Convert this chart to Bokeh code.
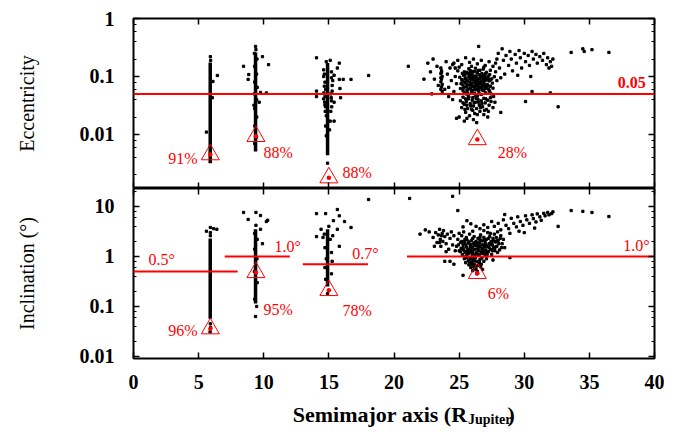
from bokeh.plotting import figure
from bokeh.models import (LinearAxis, LogAxis, Range1d, SingleIntervalTicker, LogTicker,
                          CustomJSTickFormatter, Span, Label)
from bokeh.layouts import column
from bokeh.embed import file_html
from bokeh.resources import INLINE

RED = "#ff0000"
FONT = "Liberation Serif"

# ---------------- data ----------------
x_ticks_interval = 5

# dense cores of the three inner groups (semimajor axis, lower / upper value)
core_a = [5.89, 9.37, 14.9]
core_e_lo = [0.0032, 0.0051, 0.0044]
core_e_hi = [0.175, 0.26, 0.17]
core_i_lo = [0.057, 0.115, 0.25]
core_i_hi = [2.3, 3.5, 3.5]

# eccentricity: scattered particles around the inner groups
ecc_inner = [(6.44, 0.104), (6.1, 0.082), (6.05, 0.043), (5.6, 0.011), (5.9, 0.22), (5.92, 0.19),
             (8.45, 0.15), (8.85, 0.108), (8.8, 0.089), (9.9, 0.22), (10.37, 0.16), (9.75, 0.053),
             (10.2, 0.052), (9.65, 0.036), (9.25, 0.032), (9.37, 0.33), (9.4, 0.29),
             (9.28, 0.25), (9.48, 0.2), (9.3, 0.15), (9.45, 0.11), (9.3, 0.08), (9.5, 0.065),
             (9.28, 0.05), (9.45, 0.04), (9.3, 0.028), (9.46, 0.02), (9.32, 0.014), (9.44, 0.009),
             (9.3, 0.007), (14.05, 0.21), (15.8, 0.17), (15.65, 0.14), (14.6, 0.13), (15.4, 0.105),
             (16.1, 0.089), (16.7, 0.089), (15.8, 0.089), (15.85, 0.062), (14.05, 0.056),
             (14.05, 0.045), (14.6, 0.041), (15.9, 0.043), (15.4, 0.036), (15.4, 0.017),
             (14.7, 0.032), (14.9, 0.0032), (15.1, 0.19), (14.8, 0.18),
             (14.65, 0.11), (15.2, 0.095), (14.7, 0.08), (15.25, 0.07), (14.75, 0.06), (15.15, 0.05),
             (14.7, 0.045), (15.2, 0.038), (14.75, 0.03), (15.15, 0.025), (14.8, 0.021),
             (15.1, 0.017), (14.75, 0.014), (15.05, 0.012), (14.8, 0.0095), (15.2, 0.12),
             (14.6, 0.1), (15.3, 0.085), (14.65, 0.068), (15.25, 0.056), (14.62, 0.052),
             (15.18, 0.043), (14.68, 0.036), (15.22, 0.03), (14.72, 0.025),
             (18.05, 0.104), (21.1, 0.15)]

# eccentricity: outer (irregular) group
ecc_outer = [(25.1, 0.062), (25.2, 0.088), (25.3, 0.071), (25.35, 0.105), (25.4, 0.052), (25.45, 0.079),
             (25.5, 0.094), (25.55, 0.066), (25.6, 0.118), (25.6, 0.058), (25.65, 0.083), (25.7, 0.047),
             (25.75, 0.099), (25.8, 0.071), (25.85, 0.126), (25.9, 0.062), (25.9, 0.089), (25.95, 0.054),
             (26.0, 0.11), (26.0, 0.076), (26.05, 0.043), (26.1, 0.095), (26.1, 0.067), (26.15, 0.083),
             (26.2, 0.121), (26.2, 0.051), (26.25, 0.072), (26.3, 0.102), (26.3, 0.061), (26.35, 0.087),
             (26.4, 0.046), (26.4, 0.115), (26.45, 0.069), (26.5, 0.093), (26.5, 0.056), (26.55, 0.078),
             (26.6, 0.128), (26.6, 0.064), (26.65, 0.099), (26.7, 0.049), (26.7, 0.082), (26.75, 0.112),
             (26.8, 0.07), (26.8, 0.058), (26.85, 0.091), (26.9, 0.076), (26.95, 0.104), (27.0, 0.062),
             (27.0, 0.087), (27.05, 0.052), (27.1, 0.118), (27.15, 0.073), (27.2, 0.095), (27.25, 0.061),
             (27.3, 0.084), (27.35, 0.108), (27.4, 0.068), (27.45, 0.05), (27.5, 0.091), (27.55, 0.077),
             (27.6, 0.063), (27.7, 0.099), (25.25, 0.113), (25.5, 0.041), (25.75, 0.136), (26.25, 0.139),
             (26.85, 0.134), (27.4, 0.128), (25.05, 0.097), (27.65, 0.045),
             (25.15, 0.075), (25.3, 0.057), (25.45, 0.091), (25.6, 0.072), (25.75, 0.061), (25.85, 0.105),
             (26.0, 0.057), (26.15, 0.066), (26.3, 0.08), (26.45, 0.058), (26.55, 0.107), (26.7, 0.065),
             (26.9, 0.057), (27.05, 0.097), (27.2, 0.07), (27.35, 0.055), (25.95, 0.098), (26.4, 0.075),
             (25.25, 0.083), (25.35, 0.064), (25.45, 0.107), (25.55, 0.087), (25.65, 0.052), (25.7, 0.112),
             (25.8, 0.093), (25.85, 0.078), (25.95, 0.068), (26.05, 0.122), (26.05, 0.088), (26.15, 0.101),
             (26.2, 0.059), (26.25, 0.094), (26.35, 0.069), (26.4, 0.084), (26.45, 0.127), (26.5, 0.064),
             (26.6, 0.09), (26.65, 0.074), (26.75, 0.06), (26.8, 0.099), (26.85, 0.068), (26.95, 0.084),
             (27.0, 0.111), (27.1, 0.064), (27.15, 0.088), (27.25, 0.102), (27.3, 0.058), (27.4, 0.088),
             (25.4, 0.12), (25.9, 0.117), (26.55, 0.05), (27.05, 0.07), (25.55, 0.05), (26.25, 0.047),
             (25.1, 0.038), (25.2, 0.029), (25.3, 0.044), (25.4, 0.033), (25.5, 0.024), (25.55, 0.037),
             (25.65, 0.028), (25.7, 0.041), (25.8, 0.021), (25.85, 0.034), (25.95, 0.027), (26.0, 0.039),
             (26.1, 0.031), (26.2, 0.023), (26.25, 0.036), (26.35, 0.028), (26.45, 0.04), (26.55, 0.032),
             (26.6, 0.025), (26.7, 0.038), (26.8, 0.03), (26.9, 0.042), (27.0, 0.035), (27.1, 0.027),
             (27.2, 0.039), (27.3, 0.032), (27.45, 0.037), (27.6, 0.029), (27.75, 0.036), (25.0, 0.02),
             (24.8, 0.019), (25.4, 0.017), (26.1, 0.018), (27.2, 0.02), (28.2, 0.024),
             (25.3, 0.035), (25.45, 0.027), (25.6, 0.032), (25.75, 0.044), (25.9, 0.031), (26.05, 0.026),
             (26.15, 0.035), (26.3, 0.042), (26.4, 0.022), (26.5, 0.036), (26.65, 0.029), (26.75, 0.034),
             (26.95, 0.026), (27.05, 0.041), (27.25, 0.025), (27.4, 0.043), (25.6, 0.019), (26.35, 0.016),
             (26.9, 0.022),
             (24.6, 0.17), (24.9, 0.19), (25.2, 0.16), (25.5, 0.21), (25.8, 0.175), (26.1, 0.2),
             (26.4, 0.165), (26.7, 0.19), (27.0, 0.155), (27.3, 0.18), (27.6, 0.15), (27.9, 0.2),
             (25.0, 0.145), (25.95, 0.15), (26.9, 0.145), (24.7, 0.14), (27.8, 0.17), (26.5, 0.33),
             (27.8, 0.12), (28.0, 0.25), (28.1, 0.14), (28.3, 0.3), (28.4, 0.19), (28.5, 0.11),
             (28.6, 0.23), (28.8, 0.155), (28.9, 0.27), (29.0, 0.2), (29.1, 0.125), (29.3, 0.24),
             (29.4, 0.17), (29.6, 0.28), (29.7, 0.21), (29.8, 0.14), (30.0, 0.25), (30.1, 0.18),
             (30.3, 0.23), (30.4, 0.155), (30.6, 0.27), (30.7, 0.2), (30.9, 0.24), (31.0, 0.17),
             (31.2, 0.22), (31.4, 0.19), (31.5, 0.25), (31.7, 0.16), (31.8, 0.21), (32.0, 0.18),
             (32.2, 0.2), (32.1, 0.15), (31.9, 0.14), (28.2, 0.095), (29.5, 0.105), (30.5, 0.1),
             (27.9, 0.085),
             (22.6, 0.17), (22.8, 0.12), (23.0, 0.2), (23.1, 0.09), (23.3, 0.15), (23.4, 0.07),
             (24.0, 0.18), (24.1, 0.11), (24.2, 0.065), (24.3, 0.14), (24.4, 0.085), (24.5, 0.16),
             (24.6, 0.055), (24.7, 0.1), (24.8, 0.075), (24.9, 0.125), (24.2, 0.045), (23.9, 0.06),
             (24.5, 0.04), (22.9, 0.05), (22.3, 0.09),
             (23.6, 0.14), (23.65, 0.125), (23.6, 0.112), (23.7, 0.1), (23.65, 0.09), (23.6, 0.081),
             (23.7, 0.073), (23.65, 0.066), (23.6, 0.06), (23.7, 0.055), (23.65, 0.118), (23.6, 0.095),
             (32.6, 0.03), (30.1, 0.037), (33.6, 0.26), (34.5, 0.3), (34.6, 0.27), (35.2, 0.29),
             (36.5, 0.26), (30.6, 0.055), (32.0, 0.052)]

# inclination (degrees): scattered particles around the inner groups
inc_inner = [(5.9, 3.8), (5.6, 3.2), (6.15, 3.6), (6.4, 3.5), (5.9, 0.045), (5.92, 0.038),
             (5.88, 0.031), (5.9, 3.0), (5.9, 2.6),
             (8.45, 7.6), (9.4, 7.6), (9.75, 6.6), (8.8, 5.5), (10.3, 5.3), (10.2, 5.0), (9.75, 3.5),
             (9.9, 1.8), (9.5, 2.2), (9.37, 0.063), (9.4, 4.2), (9.3, 2.9), (9.45, 0.1), (9.3, 0.14),
             (9.5, 0.3), (9.28, 0.5), (9.48, 0.9), (9.3, 1.4),
             (14.05, 7.2), (14.75, 7.2), (15.65, 8.7), (15.8, 6.5), (15.35, 5.2), (16.2, 5.0),
             (16.7, 3.8), (14.05, 2.5), (14.4, 3.5), (15.65, 3.5), (15.8, 1.6), (14.55, 2.4),
             (14.9, 0.18), (15.2, 1.2), (14.7, 1.5), (15.25, 0.8), (14.7, 0.6), (15.2, 0.45),
             (14.75, 0.35), (15.1, 2.2), (14.65, 2.8), (15.3, 2.6), (15.0, 4.0), (14.8, 0.9),
             (18.05, 13.8), (21.2, 14.5)]

# inclination (degrees): outer (irregular) group
inc_outer = [(24.8, 1.6), (24.9, 2.2), (25.0, 1.3), (25.1, 1.9), (25.2, 2.6), (25.25, 1.1), (25.3, 1.5),
             (25.4, 2.0), (25.45, 1.25), (25.5, 1.75), (25.55, 2.4), (25.6, 1.05), (25.65, 1.4),
             (25.7, 1.85), (25.75, 1.15), (25.8, 2.8), (25.85, 1.6), (25.9, 1.3), (25.95, 2.1),
             (26.0, 1.0), (26.0, 1.5), (26.05, 1.2), (26.1, 1.8), (26.15, 2.5), (26.2, 1.1),
             (26.25, 1.4), (26.3, 2.0), (26.35, 1.65), (26.4, 1.05), (26.45, 2.3), (26.5, 1.3),
             (26.55, 1.85), (26.6, 1.55), (26.65, 2.7), (26.7, 1.2), (26.75, 2.05), (26.8, 1.45),
             (26.85, 1.7), (26.9, 2.4), (26.95, 1.15), (27.0, 1.9), (27.05, 1.35), (27.1, 2.2),
             (27.15, 1.6), (27.2, 3.0), (27.25, 1.25), (27.3, 1.8), (27.35, 2.5), (27.4, 1.4),
             (27.45, 2.0), (27.5, 1.1), (27.55, 1.7), (27.6, 2.3), (27.65, 1.5), (27.7, 2.8),
             (27.75, 1.3), (27.8, 1.95), (27.85, 2.4), (27.9, 1.6), (28.0, 2.1), (28.1, 1.35),
             (28.2, 2.6), (28.3, 1.8), (28.4, 2.2), (25.35, 3.1), (26.05, 3.2), (26.9, 3.3),
             (25.0, 2.9), (27.95, 3.1), (28.5, 1.5),
             (25.15, 1.45), (25.3, 1.75), (25.5, 1.2), (25.6, 2.15), (25.7, 1.3), (25.9, 1.75),
             (26.1, 1.35), (26.2, 1.9), (26.35, 1.2), (26.5, 1.6), (26.6, 2.1), (26.75, 1.35),
             (26.95, 1.55), (27.1, 1.2), (27.3, 1.5), (27.5, 1.9), (27.7, 1.45), (27.9, 2.05),
             (24.95, 1.7), (25.1, 1.25), (25.2, 2.0), (25.35, 1.35), (25.45, 2.2), (25.55, 1.55),
             (25.65, 1.15), (25.75, 1.95), (25.8, 1.4), (25.95, 1.25), (26.05, 2.3), (26.15, 1.65),
             (26.25, 1.05), (26.3, 1.7), (26.45, 1.45), (26.55, 1.1), (26.6, 2.4), (26.7, 1.7),
             (26.85, 1.25), (26.95, 2.1), (27.05, 1.7), (27.15, 1.1), (27.25, 2.3), (27.4, 1.75),
             (27.55, 1.3), (27.65, 2.05), (27.8, 1.55), (27.95, 1.2), (28.05, 1.8), (28.25, 1.5),
             (26.0, 1.15), (26.4, 1.85), (26.8, 1.15), (25.5, 1.0), (27.0, 1.05), (28.15, 2.3),
             (25.4, 0.9), (25.5, 0.75), (25.6, 0.95), (25.7, 0.82), (25.75, 0.68), (25.85, 0.9),
             (25.9, 0.6), (26.0, 0.78), (26.05, 0.52), (26.1, 0.88), (26.15, 0.7), (26.2, 0.58),
             (26.25, 0.95), (26.3, 0.64), (26.35, 0.8), (26.4, 0.5), (26.5, 0.72), (26.6, 0.87),
             (26.65, 0.62), (26.75, 0.93), (26.9, 0.8), (25.3, 0.42), (26.8, 0.55), (24.3, 0.8),
             (23.9, 0.8), (24.6, 0.7), (27.1, 0.9), (27.6, 0.85), (28.9, 0.95),
             (25.95, 0.7), (26.1, 0.62), (26.2, 0.82), (26.3, 0.55), (26.35, 0.45), (26.45, 0.66),
             (26.55, 0.78), (26.0, 0.92), (25.8, 0.78), (26.7, 0.7),
             (23.0, 2.4), (23.2, 3.0), (23.3, 1.9), (23.4, 2.7), (23.5, 3.5), (23.55, 2.2), (23.6, 1.6),
             (23.7, 2.9), (23.75, 2.0), (23.8, 3.3), (23.9, 2.5), (24.0, 1.8), (24.1, 2.8), (24.2, 1.4),
             (24.3, 2.3), (24.4, 3.1), (24.5, 1.7), (24.6, 2.6), (24.7, 1.3), (23.65, 2.6), (23.5, 1.9),
             (22.7, 3.1), (22.4, 3.4), (23.1, 1.6), (24.0, 1.25),
             (26.6, 3.6), (26.9, 4.3), (27.2, 3.8), (27.5, 5.0), (27.7, 4.0), (28.0, 4.6), (28.2, 3.4),
             (28.4, 5.4), (28.6, 4.2), (28.8, 3.6), (29.0, 5.8), (29.2, 4.6), (29.4, 3.9), (29.5, 6.2),
             (29.7, 5.0), (29.9, 4.2), (30.1, 6.5), (30.2, 5.4), (30.4, 4.6), (30.6, 6.8), (30.7, 5.7),
             (30.9, 4.9), (31.0, 7.1), (31.2, 6.2), (31.3, 5.3), (31.5, 7.3), (31.6, 6.5), (31.8, 7.6),
             (31.9, 6.8), (32.1, 7.2), (32.2, 7.8), (28.9, 2.9), (29.6, 3.2), (30.8, 3.7), (27.4, 2.9),
             (26.3, 4.0), (25.9, 4.5), (25.3, 3.9), (24.9, 8.3), (25.6, 5.2), (28.5, 6.9), (30.0, 3.0),
             (24.5, 16.0), (33.6, 8.3), (34.5, 8.0), (35.2, 7.6), (36.5, 6.3), (32.6, 4.0), (22.0, 2.8)]

# mean values
ecc_mean = 0.05
inc_mean_a_lo = [0, 7, 13, 21]
inc_mean_a_hi = [8, 12, 18, 40]
inc_mean = [0.5, 1.0, 0.7, 1.0]
inc_mean_labels = ["0.5°", "1.0°", "0.7°", "1.0°"]

# triangles (fraction markers)
tri_a = [5.9, 9.4, 15.0, 26.4]
tri_e = [0.0045, 0.0093, 0.0018, 0.0082]
tri_i = [0.036, 0.48, 0.21, 0.46]
pct_ecc = ["91%", "88%", "88%", "28%"]
pct_inc = ["96%", "95%", "78%", "6%"]


def unzip(pairs):
    return [p[0] for p in pairs], [p[1] for p in pairs]


eia, eie = unzip(ecc_inner)
eoa, eoe = unzip(ecc_outer)
iia, iii = unzip(inc_inner)
ioa, ioi = unzip(inc_outer)

fmt_code = "return tick >= 1 ? tick.toFixed(0) : tick.toPrecision(1);"
blank_code = "return '';"

LEFT = 133
RIGHT = 10


def style_axis(ax, labels, is_x):
    ax.axis_line_color = None
    ax.major_tick_in = 6
    ax.major_tick_out = 0
    ax.major_tick_line_width = 1.5
    ax.major_tick_line_color = "black"
    ax.minor_tick_in = 3
    ax.minor_tick_out = 0
    ax.minor_tick_line_width = 1
    ax.minor_tick_line_color = None if is_x else "black"
    if labels:
        ax.major_label_text_font = FONT
        ax.major_label_text_font_size = "20px"
        ax.major_label_text_font_style = "bold"
        ax.major_label_text_color = "black"
    else:
        ax.formatter = CustomJSTickFormatter(code=blank_code)
        ax.major_label_text_font_size = "1px"
        ax.major_label_standoff = 0


def make_panel(y_range, ylabel, show_x_labels, top_border, bottom_border):
    p = figure(frame_width=521, frame_height=170, x_range=Range1d(0, 40), y_range=y_range,
               y_axis_type="log", x_axis_location=None, y_axis_location=None,
               toolbar_location=None, output_backend="svg",
               min_border_left=LEFT, min_border_right=RIGHT,
               min_border_top=top_border, min_border_bottom=bottom_border)
    p.grid.visible = False
    p.outline_line_color = "black"
    p.outline_line_width = 2
    p.background_fill_color = "white"
    p.border_fill_color = "white"

    left = LogAxis(ticker=LogTicker(), formatter=CustomJSTickFormatter(code=fmt_code))
    style_axis(left, True, False)
    left.major_label_standoff = 19
    left.axis_label = ylabel
    left.axis_label_text_font = FONT
    left.axis_label_text_font_size = "20px"
    left.axis_label_text_font_style = "normal"
    left.axis_label_text_color = "black"
    left.axis_label_standoff = 39
    p.add_layout(left, "left")

    right = LogAxis(ticker=LogTicker())
    style_axis(right, False, False)
    p.add_layout(right, "right")

    below = LinearAxis(ticker=SingleIntervalTicker(interval=x_ticks_interval, num_minor_ticks=0))
    style_axis(below, show_x_labels, True)
    if show_x_labels:
        below.major_label_standoff = 16
    p.add_layout(below, "below")

    above = LinearAxis(ticker=SingleIntervalTicker(interval=x_ticks_interval, num_minor_ticks=0))
    style_axis(above, False, True)
    p.add_layout(above, "above")
    return p


# ---------------- top panel: eccentricity ----------------
p1 = make_panel(Range1d(0.00117, 1.0001), "Eccentricity", False, 18, 0)
p1.segment(x0=core_a, y0=core_e_lo, x1=core_a, y1=core_e_hi, line_color="black", line_width=3.5)
p1.scatter(eia, eie, marker="square", size=2.3, color="black")
p1.scatter(eoa, eoe, marker="square", size=2.3, color="black")
p1.add_layout(Span(location=ecc_mean, dimension="width", line_color=RED, line_width=2))
p1.scatter(tri_a, tri_e, marker="triangle_dot", size=18, fill_color=None,
           line_color=RED, line_width=1)

ecc_label_pos = [(4.92, 0.00386, "right"), (9.98, 0.0049, "left"),
                 (16.05, 0.00221, "left"), (27.96, 0.0049, "left")]
for (lx, ly, al), t in zip(ecc_label_pos, pct_ecc):
    p1.add_layout(Label(x=lx, y=ly, text=t, text_font=FONT, text_font_size="16px",
                        text_color=RED, text_align=al, text_baseline="middle"))
p1.add_layout(Label(x=37.17, y=0.0788, text="0.05", text_font=FONT, text_font_size="16px",
                    text_font_style="bold", text_color=RED, text_align="left",
                    text_baseline="middle"))

# ---------------- bottom panel: inclination ----------------
p2 = make_panel(Range1d(0.0091, 22.9), "Inclination (°)", True, 0, 40)
p2.segment(x0=core_a, y0=core_i_lo, x1=core_a, y1=core_i_hi, line_color="black", line_width=3.5)
p2.scatter(iia, iii, marker="square", size=2.3, color="black")
p2.scatter(ioa, ioi, marker="square", size=2.3, color="black")
p2.segment(x0=inc_mean_a_lo, y0=inc_mean, x1=inc_mean_a_hi, y1=inc_mean, line_color=RED, line_width=2)
p2.scatter(tri_a, tri_i, marker="triangle_dot", size=18, fill_color=None,
           line_color=RED, line_width=1)

inc_label_pos = [(4.92, 0.033, "right"), (9.98, 0.087, "left"),
                 (16.05, 0.083, "left"), (27.2, 0.182, "left")]
for (lx, ly, al), t in zip(inc_label_pos, pct_inc):
    p2.add_layout(Label(x=lx, y=ly, text=t, text_font=FONT, text_font_size="16px",
                        text_color=RED, text_align=al, text_baseline="middle"))
mean_label_pos = [(1.15, 0.87), (10.83, 1.58), (16.8, 1.15), (37.6, 1.66)]
for (lx, ly), t in zip(mean_label_pos, inc_mean_labels):
    p2.add_layout(Label(x=lx, y=ly, text=t, text_font=FONT, text_font_size="16px",
                        text_color=RED, text_align="left", text_baseline="middle"))

# ---------------- x-axis title strip (with subscript) ----------------
p3 = figure(frame_width=521, frame_height=34, x_range=Range1d(0, 40), y_range=Range1d(0, 34),
            x_axis_location=None, y_axis_location=None, toolbar_location=None,
            output_backend="svg", min_border_left=LEFT, min_border_right=RIGHT,
            min_border_top=0, min_border_bottom=0)
p3.grid.visible = False
p3.outline_line_color = None
p3.background_fill_color = "white"
p3.border_fill_color = "white"
p3.add_layout(Label(x=25.64, y=18, text="Semimajor axis (R", text_font=FONT,
                    text_font_size="22px", text_font_style="bold", text_color="black",
                    text_align="right", text_baseline="alphabetic"))
p3.add_layout(Label(x=25.68, y=13, text="Jupiter", text_font=FONT,
                    text_font_size="14px", text_font_style="bold", text_color="black",
                    text_align="left", text_baseline="alphabetic"))
p3.add_layout(Label(x=28.72, y=18, text=")", text_font=FONT,
                    text_font_size="22px", text_font_style="bold", text_color="black",
                    text_align="left", text_baseline="alphabetic"))

layout = column(p1, p2, p3)
open("out.html", "w").write(file_html(layout, INLINE))
